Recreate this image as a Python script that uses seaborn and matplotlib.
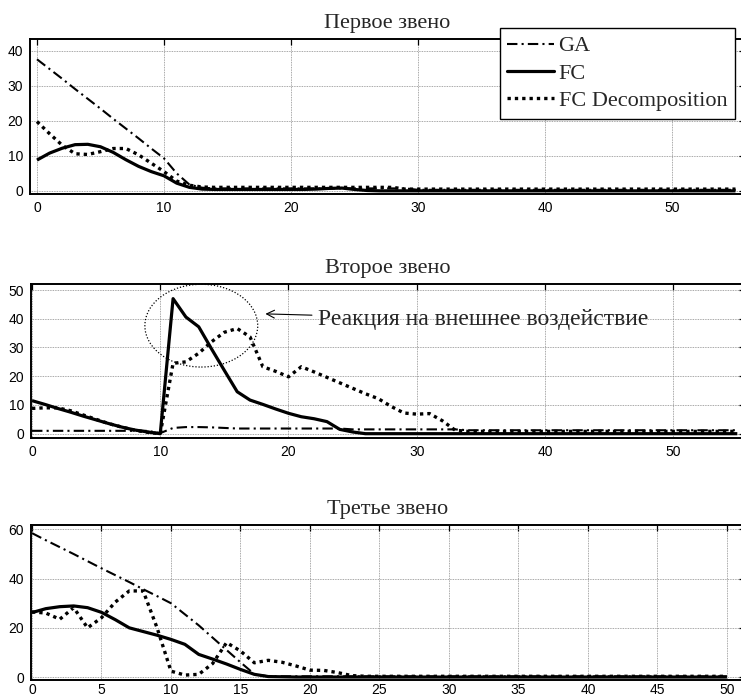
import numpy as np
import pandas as pd
import matplotlib
matplotlib.use('Agg')
import matplotlib.pyplot as plt
import seaborn as sns
from matplotlib.patches import Ellipse
from matplotlib.lines import Line2D

sns.set_style('white')
plt.rcParams['font.family'] = ['Liberation Sans', 'DejaVu Sans']

# ---------------- data ----------------
series_names = ['GA', 'FC', 'FC Decomposition']
titles = ['Первое звено', 'Второе звено', 'Третье звено']
annotation_text = 'Реакция на внешнее воздействие'

t1 = np.arange(0, 56)
ga1 = [37.6, 34.8, 32.0, 29.1, 26.3, 23.5, 20.6, 17.8, 15.0, 12.1, 9.3, 5.0, 1.8, 0.9,
       0.7, 0.7, 0.7, 0.7, 0.7, 0.7, 0.7, 0.7, 0.7, 0.7, 0.7, 0.7, 0.7, 0.7, 0.7, 0.7,
       0.3, 0.3, 0.3, 0.3, 0.3, 0.3, 0.3, 0.3, 0.3, 0.3, 0.3, 0.3, 0.3, 0.3, 0.3, 0.3,
       0.3, 0.3, 0.3, 0.3, 0.3, 0.3, 0.3, 0.3, 0.3, 0.3]
fc1 = [8.8, 10.8, 12.2, 13.2, 13.3, 12.6, 11.0, 8.9, 7.0, 5.5, 4.3, 2.2, 1.0, 0.5,
       0.4, 0.4, 0.4, 0.4, 0.4, 0.4, 0.4, 0.4, 0.5, 0.7, 0.8, 0.4, 0.1, 0.0, 0.0, 0.0,
       0.0, 0.0, 0.0, 0.0, 0.0, 0.0, 0.0, 0.0, 0.0, 0.0, 0.0, 0.0, 0.0, 0.0, 0.0, 0.0,
       0.0, 0.0, 0.0, 0.0, 0.0, 0.0, 0.0, 0.0, 0.0, 0.0]
fcd1 = [19.8, 16.3, 13.0, 10.6, 10.4, 11.2, 12.1, 12.1, 10.3, 7.9, 5.5, 2.8, 1.6, 1.1,
        1.0, 1.0, 1.0, 1.0, 1.0, 1.0, 1.0, 1.0, 1.0, 1.0, 1.0, 1.0, 1.0, 1.0, 1.0, 0.5,
        0.5, 0.5, 0.5, 0.5, 0.5, 0.5, 0.5, 0.5, 0.5, 0.5, 0.5, 0.5, 0.5, 0.5, 0.5, 0.5,
        0.5, 0.5, 0.5, 0.5, 0.5, 0.5, 0.5, 0.5, 0.5, 0.5]

t2 = np.arange(0, 56)
ga2 = [1.0, 1.0, 1.0, 1.0, 1.0, 1.0, 1.0, 1.0, 1.0, 1.0, 0.2, 2.0, 2.3, 2.3, 2.2, 2.0,
       1.8, 1.8, 1.8, 1.8, 1.8, 1.8, 1.8, 1.8, 1.8, 1.5, 1.5, 1.5, 1.5, 1.5, 1.5, 1.5,
       1.5, 1.5, 1.2, 1.2, 1.2, 1.2, 1.2, 1.2, 1.2, 1.2, 1.2, 1.2, 1.2, 1.2, 1.2, 1.2,
       1.2, 1.2, 1.2, 1.2, 1.2, 1.2, 1.2, 1.2]
fc2 = [11.5, 10.2, 8.8, 7.5, 6.1, 4.8, 3.5, 2.3, 1.3, 0.6, 0.0, 47.0, 40.6, 37.2, 29.5,
       22.0, 14.6, 11.7, 10.2, 8.6, 7.1, 5.9, 5.2, 4.2, 1.5, 0.6, 0.0, 0.0, 0.0, 0.0,
       0.0, 0.0, 0.0, 0.0, 0.0, 0.0, 0.0, 0.0, 0.0, 0.0, 0.0, 0.0, 0.0, 0.0, 0.0, 0.0,
       0.0, 0.0, 0.0, 0.0, 0.0, 0.0, 0.0, 0.0, 0.0, 0.0]
fcd2 = [8.8, 9.0, 9.0, 8.0, 6.5, 5.0, 3.5, 2.3, 1.2, 0.5, 0.0, 24.5, 25.0, 28.0, 32.0,
        35.3, 36.6, 33.7, 23.3, 21.7, 19.8, 23.3, 21.5, 19.6, 17.7, 15.8, 13.9, 12.2,
        9.5, 7.2, 6.8, 7.0, 4.5, 1.2, 0.8, 0.8, 0.8, 0.8, 0.8, 0.8, 0.8, 0.8, 0.8, 0.8,
        0.8, 0.8, 0.8, 0.8, 0.8, 0.8, 0.8, 0.8, 0.8, 0.8, 0.8, 0.8]

t3 = np.arange(0, 51)
ga3 = [58.5, 55.6, 52.8, 50.0, 47.1, 44.2, 41.4, 38.6, 35.7, 32.9, 30.0, 25.5, 21.0,
       16.0, 11.0, 6.0, 1.2, 0.3, 0.3, 0.3, 0.3, 0.3, 0.3, 0.3, 0.3, 0.3, 0.3, 0.3, 0.3,
       0.3, 0.3, 0.3, 0.3, 0.3, 0.3, 0.3, 0.3, 0.3, 0.3, 0.3, 0.3, 0.3, 0.3, 0.3, 0.3,
       0.3, 0.3, 0.3, 0.3, 0.3, 0.3]
fc3 = [26.2, 27.8, 28.6, 28.9, 28.2, 26.3, 23.3, 20.0, 18.5, 17.0, 15.3, 13.3, 9.2, 7.3,
       5.3, 3.1, 1.1, 0.2, 0.1, 0.0, 0.0, 0.0, 0.0, 0.0, 0.0, 0.0, 0.0, 0.0, 0.0, 0.0,
       0.0, 0.0, 0.0, 0.0, 0.0, 0.0, 0.0, 0.0, 0.0, 0.0, 0.0, 0.0, 0.0, 0.0, 0.0, 0.0,
       0.0, 0.0, 0.0, 0.0, 0.0]
fcd3 = [26.5, 26.0, 23.5, 28.2, 20.0, 24.1, 30.5, 35.0, 35.0, 20.0, 2.4, 0.8, 1.1, 5.5,
        14.0, 10.6, 5.8, 6.8, 6.0, 4.5, 2.8, 2.7, 1.8, 0.6, 0.3, 0.3, 0.3, 0.3, 0.3, 0.3,
        0.3, 0.3, 0.3, 0.3, 0.3, 0.3, 0.3, 0.3, 0.3, 0.3, 0.3, 0.3, 0.3, 0.3, 0.3, 0.3,
        0.3, 0.3, 0.3, 0.3, 0.3]

yticks1 = [0, 10, 20, 30, 40]
yticks2 = [0, 10, 20, 30, 40, 50]
yticks3 = [0, 20, 40, 60]
xticks12 = [0, 10, 20, 30, 40, 50]
xticks3 = [0, 5, 10, 15, 20, 25, 30, 35, 40, 45, 50]

# ---------------- styling ----------------
styles = {
    'GA': dict(lw=1.5, linestyle=(0, (5, 2, 1, 2))),
    'FC': dict(lw=2.3, linestyle='-'),
    'FC Decomposition': dict(lw=2.4, linestyle=(0, (1, 1.2))),
}

W, H = 741, 697
fig = plt.figure(figsize=(W / 100, H / 100), dpi=100)

def fx(px):
    return px / W

def fy(px):
    return 1 - px / H

axes_px = [  # left, top, bottom (pixel)
    (30, 39, 194),
    (31, 284, 438),
    (31, 525, 680),
]
right_px = 745
axs = []
for l, t, b in axes_px:
    ax = fig.add_axes([fx(l), fy(b), (right_px - l) / W, (b - t) / H])
    axs.append(ax)

panels = [
    (t1, [ga1, fc1, fcd1], (-0.55, 55.75), (-0.9, 43.4), xticks12, yticks1),
    (t2, [ga2, fc2, fcd2], (-0.08, 55.6), (-1.5, 52.1), xticks12, yticks2),
    (t3, [ga3, fc3, fcd3], (-0.07, 51.3), (-1.2, 61.8), xticks3, yticks3),
]

serif = 'Liberation Serif'
for i, (ax, (t, ys, xl, yl, xt, yt), title) in enumerate(zip(axs, panels, titles)):
    for name, y in zip(series_names, ys):
        df = pd.DataFrame({'t': t, 'v': y})
        sns.lineplot(data=df, x='t', y='v', ax=ax, color='black',
                     solid_capstyle='butt', **styles[name])
    ax.set_xlim(*xl)
    ax.set_ylim(*yl)
    ax.set_xticks(xt)
    ax.set_yticks(yt)
    ax.set_xlabel('')
    ax.set_ylabel('')
    ax.grid(True, color='#8a8a8a', linestyle=(0, (1, 1)), linewidth=0.6)
    ax.set_axisbelow(True)
    for s in ax.spines.values():
        s.set_color('black')
        s.set_linewidth(1.4)
    ax.tick_params(direction='in', length=4, width=0.9, top=True, right=True,
                   labelsize=10, pad=5, colors='black')
    if i == 2:
        ax.tick_params(axis='x', pad=2.5)
    ax.set_title(title, fontsize=16, family=serif, pad=8)

# legend
handles = [Line2D([], [], color='black', **styles[n]) for n in series_names]
fig.legend(handles, series_names, loc='upper right',
           bbox_to_anchor=(fx(735), fy(28)), borderaxespad=0,
           prop={'family': serif, 'size': 16}, frameon=True, fancybox=False,
           edgecolor='black', framealpha=1, handlelength=2.1, handletextpad=0.2,
           labelspacing=0.3, borderpad=0.35)
leg = fig.legends[0]
leg.get_frame().set_linewidth(1.0)

# annotation in second panel
ax2 = axs[1]
ax2.add_patch(Ellipse((13.2, 37.6), width=8.8, height=28.8, fill=False,
                      edgecolor='black', linestyle=(0, (1, 1.5)), lw=0.9,
                      clip_on=False, zorder=5))
ax2.annotate(annotation_text, xy=(18.2, 41.7), xytext=(22.3, 39.6),
             fontsize=17, family=serif, va='center', ha='left',
             arrowprops=dict(arrowstyle='->', color='black', lw=0.8,
                             shrinkA=2, shrinkB=0, mutation_scale=14))

fig.savefig('out.png', dpi=100)
